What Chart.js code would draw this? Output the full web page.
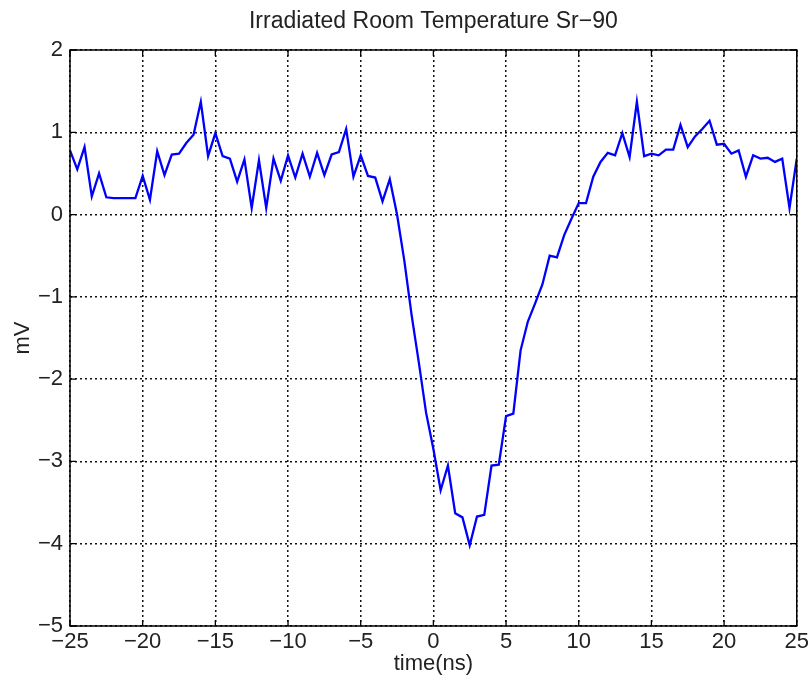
<!DOCTYPE html>
<html>
<head>
<meta charset="utf-8">
<script src="https://cdn.jsdelivr.net/npm/chart.js@4/dist/chart.umd.min.js"></script>
<style>
  html, body { margin: 0; padding: 0; background: #fff; }
  #wrap { width: 812px; height: 677px; }
</style>
</head>
<body>
<div id="wrap"><canvas id="c" width="812" height="677"></canvas></div>
<script>
const titleText = "Irradiated Room Temperature Sr\u221290";
const xLabel = "time(ns)";
const yLabel = "mV";
const xTicks = [-25, -20, -15, -10, -5, 0, 5, 10, 15, 20, 25];
const yTicks = [-5, -4, -3, -2, -1, 0, 1, 2];

const timeNs = [
  -25, -24.5, -24, -23.5, -23, -22.5, -22, -21.5, -21, -20.5,
  -20, -19.5, -19, -18.5, -18, -17.5, -17, -16.5, -16, -15.5,
  -15, -14.5, -14, -13.5, -13, -12.5, -12, -11.5, -11, -10.5,
  -10, -9.5, -9, -8.5, -8, -7.5, -7, -6.5, -6, -5.5,
  -5, -4.5, -4, -3.5, -3, -2.5, -2, -1.5, -1, -0.5,
  0, 0.5, 1, 1.5, 2, 2.5, 3, 3.5, 4, 4.5,
  5, 5.5, 6, 6.5, 7, 7.5, 8, 8.5, 9, 9.5,
  10, 10.5, 11, 11.5, 12, 12.5, 13, 13.5, 14, 14.5,
  15, 15.5, 16, 16.5, 17, 17.5, 18, 18.5, 19, 19.5,
  20, 20.5, 21, 21.5, 22, 22.5, 23, 23.5, 24, 24.5,
  25
];
const signalMV = [
  0.78, 0.55, 0.82, 0.22, 0.50, 0.21, 0.20, 0.20, 0.20, 0.20,
  0.47, 0.18, 0.77, 0.48, 0.73, 0.74, 0.87, 0.97, 1.37, 0.71,
  0.99, 0.71, 0.68, 0.40, 0.67, 0.08, 0.66, 0.08, 0.68, 0.41,
  0.72, 0.45, 0.74, 0.46, 0.75, 0.48, 0.73, 0.76, 1.04, 0.46,
  0.72, 0.47, 0.45, 0.16, 0.43, 0.00, -0.56, -1.22, -1.80, -2.41,
  -2.85, -3.35, -3.05, -3.63, -3.68, -4.02, -3.67, -3.65, -3.05, -3.04,
  -2.45, -2.42, -1.65, -1.30, -1.08, -0.85, -0.50, -0.52, -0.25, -0.05,
  0.14, 0.14, 0.46, 0.64, 0.75, 0.72, 0.99, 0.70, 1.37, 0.71,
  0.74, 0.72, 0.79, 0.79, 1.09, 0.82, 0.95, 1.04, 1.14, 0.85,
  0.86, 0.74, 0.78, 0.46, 0.72, 0.68, 0.69, 0.64, 0.68, 0.08,
  0.68
];

const FONT = "'Liberation Sans', Arial, Helvetica, sans-serif";
const fmt = v => String(v).replace('-', '\u2212');

const framePlugin = {
  id: 'frame',
  afterLayout(chart) {
    // center the title over the plot area, as in the original figure
    if (chart.titleBlock) {
      chart.titleBlock.left = chart.chartArea.left;
      chart.titleBlock.right = chart.chartArea.right;
    }
  },
  afterDatasetsDraw(chart) {
    const {ctx, chartArea: a, scales} = chart;
    ctx.save();
    ctx.strokeStyle = '#000';
    ctx.lineWidth = 1.5;
    ctx.setLineDash([]);
    ctx.strokeRect(a.left, a.top, a.right - a.left, a.bottom - a.top);
    const tl = 6;
    ctx.lineWidth = 1.3;
    ctx.beginPath();
    xTicks.forEach(v => {
      const px = scales.x.getPixelForValue(v);
      ctx.moveTo(px, a.bottom); ctx.lineTo(px, a.bottom - tl);
      ctx.moveTo(px, a.top); ctx.lineTo(px, a.top + tl);
    });
    yTicks.forEach(v => {
      const py = scales.y.getPixelForValue(v);
      ctx.moveTo(a.left, py); ctx.lineTo(a.left + tl, py);
      ctx.moveTo(a.right, py); ctx.lineTo(a.right - tl, py);
    });
    ctx.stroke();
    ctx.restore();
  }
};

new Chart(document.getElementById('c'), {
  type: 'line',
  data: {
    datasets: [{
      data: timeNs.map((t, i) => ({x: t, y: signalMV[i]})),
      borderColor: '#0000ff',
      borderWidth: 2.3,
      pointRadius: 0,
      tension: 0,
      fill: false
    }]
  },
  options: {
    responsive: false,
    animation: false,
    devicePixelRatio: 1,
    layout: { padding: { left: 0, right: 14, top: 0, bottom: 0 } },
    plugins: {
      legend: { display: false },
      tooltip: { enabled: false },
      title: {
        display: true,
        text: titleText,
        color: '#222',
        font: { family: FONT, size: 23, weight: 'normal' },
        padding: { top: 8, bottom: 14.4 }
      }
    },
    scales: {
      x: {
        type: 'linear',
        min: -25, max: 25,
        afterBuildTicks: s => { s.ticks = xTicks.map(v => ({value: v})); },
        afterFit: s => { s.height = 51; },
        ticks: {
          callback: v => fmt(v),
          color: '#222',
          font: { family: FONT, size: 22 },
          padding: 3,
          maxRotation: 0,
          autoSkip: false
        },
        grid: { color: '#111', lineWidth: 1.5, drawTicks: false },
        border: { display: false, dash: [2, 3] },
        title: {
          display: true, text: xLabel, color: '#222',
          font: { family: FONT, size: 22 },
          padding: { top: 0, bottom: 0 }
        }
      },
      y: {
        type: 'linear',
        min: -5, max: 2,
        afterBuildTicks: s => { s.ticks = yTicks.map(v => ({value: v})); },
        afterFit: s => { s.width = 70; },
        ticks: {
          callback: v => fmt(v),
          color: '#222',
          font: { family: FONT, size: 22 },
          padding: 7,
          autoSkip: false
        },
        grid: { color: '#111', lineWidth: 1.5, drawTicks: false },
        border: { display: false, dash: [2, 3] },
        title: {
          display: true, text: yLabel, color: '#222',
          font: { family: FONT, size: 22 },
          padding: { top: 10, bottom: 0 }
        }
      }
    }
  },
  plugins: [framePlugin]
});
</script>
</body>
</html>
